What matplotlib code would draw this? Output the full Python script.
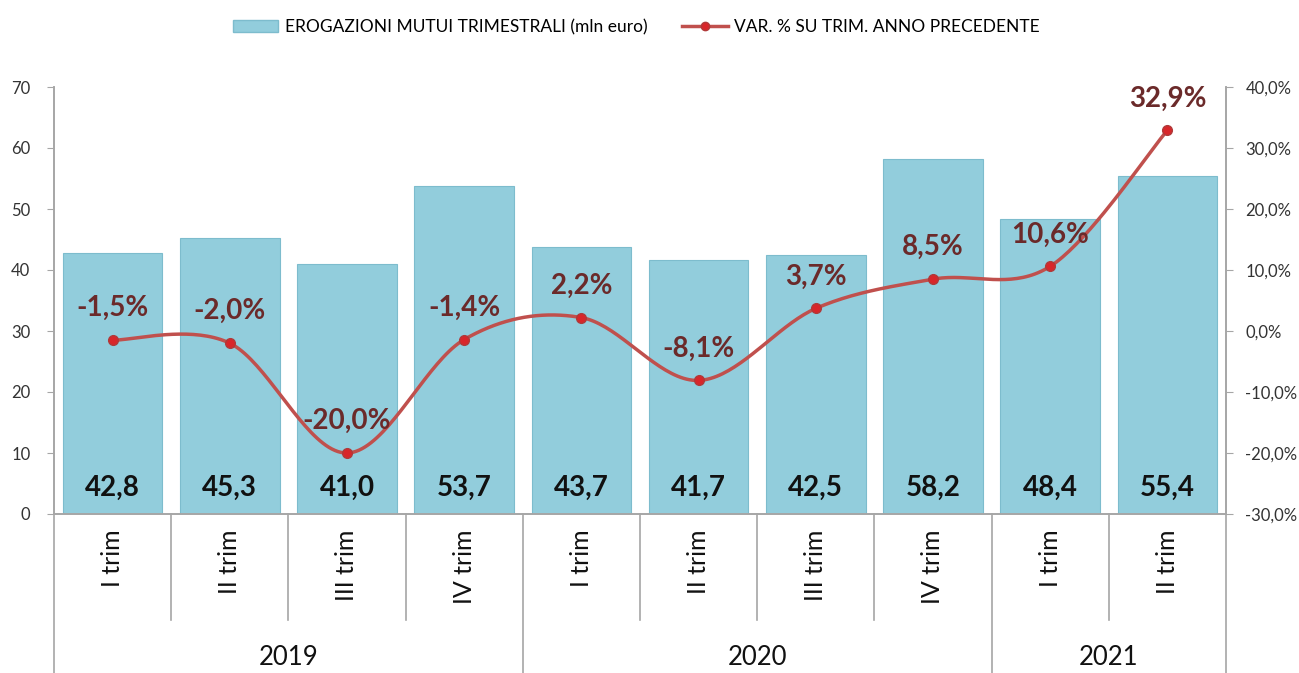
import matplotlib
matplotlib.use('Agg')
import matplotlib.pyplot as plt
from matplotlib.lines import Line2D
from matplotlib.patches import Patch
import numpy as np

# data
years = ['2019', '2020', '2021']
quarters_per_year = [4, 4, 2]
quarter_labels = ['I trim', 'II trim', 'III trim', 'IV trim', 'I trim', 'II trim',
                  'III trim', 'IV trim', 'I trim', 'II trim']
erogazioni = [42.8, 45.3, 41.0, 53.7, 43.7, 41.7, 42.5, 58.2, 48.4, 55.4]
var_pct = [-1.5, -2.0, -20.0, -1.4, 2.2, -8.1, 3.7, 8.5, 10.6, 32.9]

bar_name = 'EROGAZIONI MUTUI TRIMESTRALI (mln euro)'
line_name = 'VAR. % SU TRIM. ANNO PRECEDENTE'

plt.rcParams['font.family'] = ['Lato', 'DejaVu Sans']

BAR_COLOR = '#92CDDC'
BAR_EDGE = '#7DBCCD'
LINE_COLOR = '#C0504D'
LABEL_RED = '#6B2A2A'
GRID_GRAY = '#A6A6A6'


def smooth(xs, ys, n=40):
    # Catmull-Rom style smoothing like Excel's smoothed line
    xs = np.asarray(xs, float)
    ys = np.asarray(ys, float)
    px = np.concatenate([[xs[0]], xs, [xs[-1]]])
    py = np.concatenate([[ys[0]], ys, [ys[-1]]])
    outx, outy = [], []
    t = np.linspace(0, 1, n)
    for i in range(1, len(px) - 2):
        p0, p1, p2, p3 = [np.array([px[j], py[j]]) for j in (i - 1, i, i + 1, i + 2)]
        c1 = p1 + (p2 - p0) / 6.0
        c2 = p2 - (p3 - p1) / 6.0
        b = ((1 - t) ** 3)[:, None] * p1 + (3 * (1 - t) ** 2 * t)[:, None] * c1 \
            + (3 * (1 - t) * t ** 2)[:, None] * c2 + (t ** 3)[:, None] * p2
        outx.extend(b[:, 0])
        outy.extend(b[:, 1])
    return np.array(outx), np.array(outy)


fig = plt.figure(figsize=(12.99, 6.73), dpi=100)
ax = fig.add_axes([54 / 1299, 1 - 514 / 673, (1226 - 54) / 1299, (514 - 87) / 673])
ax2 = ax.twinx()

x = np.arange(len(erogazioni))
ax.bar(x, erogazioni, width=0.85, color=BAR_COLOR, edgecolor=BAR_EDGE, linewidth=0.8, zorder=2)
for xi, v in zip(x, erogazioni):
    ax.text(xi, 4.3, f'{v:.1f}'.replace('.', ','), ha='center', va='center',
            fontsize=20, fontweight='bold', color='#111111', zorder=5)

ax.set_xlim(-0.5, len(erogazioni) - 0.5)
ax.set_ylim(0, 70)
ax.set_yticks(range(0, 71, 10))
ax2.set_ylim(-30, 40)
ax2.set_yticks(range(-30, 41, 10))
ax2.set_yticklabels([f'{v:.1f}'.replace('.', ',') + '%' for v in range(-30, 41, 10)])

sx, sy = smooth(x, var_pct)
ax2.plot(sx, sy, color=LINE_COLOR, linewidth=2.5, zorder=3)
ax2.plot(x, var_pct, linestyle='none', marker='o', markersize=7,
         markerfacecolor='#D8262A', markeredgecolor='#B03A3A', zorder=4)
for xi, v in zip(x, var_pct):
    ax2.annotate(f'{v:.1f}'.replace('.', ',') + '%', (xi, v), xytext=(0, 23),
                 textcoords='offset points', ha='center', va='center',
                 fontsize=20, fontweight='bold', color=LABEL_RED, zorder=6)

for a in (ax, ax2):
    a.spines['top'].set_visible(False)
    for s in ('left', 'right', 'bottom'):
        a.spines[s].set_color(GRID_GRAY)
        a.spines[s].set_linewidth(1.2)
ax.tick_params(axis='y', colors=GRID_GRAY, labelcolor='#333333', labelsize=12, length=5, pad=12)
ax2.tick_params(axis='y', colors=GRID_GRAY, labelcolor='#333333', labelsize=12, length=5, pad=9)

ax.set_xticks(x)
ax.set_xticklabels(quarter_labels, rotation=90, fontsize=18, color='#111111')
ax.tick_params(axis='x', length=0, pad=11)

# category separators
trans = ax.get_xaxis_transform()
bounds = np.cumsum([0] + quarters_per_year)
for b in range(len(erogazioni) + 1):
    bottom = -0.372 if b in bounds else -0.248
    ax.plot([b - 0.5, b - 0.5], [0, bottom], transform=trans, color=GRID_GRAY,
            linewidth=1.2, clip_on=False)
for yr, start, n in zip(years, bounds[:-1], quarters_per_year):
    ax.text(start + n / 2 - 0.5, -0.337, yr, transform=trans, ha='center', va='center',
            fontsize=18.5, color='#111111')

handles = [Patch(facecolor=BAR_COLOR, edgecolor=BAR_EDGE, label=bar_name),
           Line2D([0], [0], color=LINE_COLOR, linewidth=2.5, marker='o', markersize=6,
                  markerfacecolor='#D8262A', markeredgecolor='#B03A3A', label=line_name)]
fig.legend(handles=handles, loc='center', bbox_to_anchor=(0.49, 1 - 27 / 673), ncol=2,
           frameon=False, fontsize=12.5, handlelength=2.6, handletextpad=0.4,
           columnspacing=2.0)

fig.savefig('out.png', dpi=100)
